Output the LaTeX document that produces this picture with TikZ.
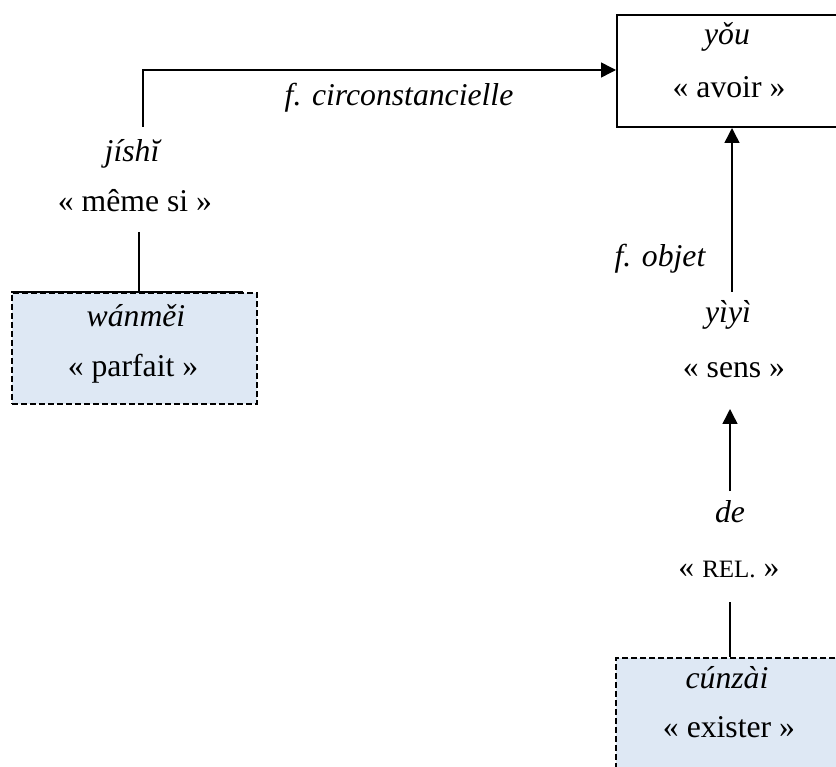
\documentclass[tikz,border=0pt]{standalone}
\usepackage{fontspec}
\setmainfont{Liberation Serif}
\usetikzlibrary{arrows.meta}
\definecolor{boxblue}{HTML}{DEE8F4}
\tikzset{
  txt/.style={anchor=base, inner sep=0pt, font=\fontsize{31.7}{38}\selectfont},
  itx/.style={txt, font=\fontsize{31.7}{38}\selectfont\itshape},
  conn/.style={line width=1.5pt, draw=black},
  arr/.style={conn, -{Triangle[length=15pt,width=15pt]}},
  solidbox/.style={draw=black, line width=2pt, inner sep=0pt},
  dashbox/.style={draw=black, fill=boxblue, line width=2pt, dash pattern=on 6pt off 3pt, inner sep=0pt}
}
\begin{document}
\begin{tikzpicture}[x=1pt, y=-1pt]
\useasboundingbox (0,0) rectangle (836,767);

% boxes
\node[solidbox, minimum width=221pt, minimum height=112pt] (youbox) at (727.5,71) {};
\node[dashbox, minimum width=245pt, minimum height=111pt] (wanbox) at (134.5,348.5) {};
\draw[line width=2.5pt] (wanbox.north west) -- ([xshift=-15pt]wanbox.north east);
\node[dashbox, minimum width=224pt, minimum height=122pt] (cunbox) at (728,719) {};

% texts
\node[itx] (you) at (727,45) {yǒu};
\node[txt] (avoir) at (729,98) {« avoir »};
\node[itx] (fcirc) at (399,106) {f. circonstancielle};
\node[itx] (jishi) at (132,162) {jíshĭ};
\node[txt] (meme) at (135,212) {« même si »};
\node[itx] (wanmei) at (136,327) {wánměi};
\node[txt] (parfait) at (133,377) {« parfait »};
\node[itx] (fobjet) at (660,267) {f. objet};
\node[itx] (yiyi) at (728,323) {yìyì};
\node[txt] (sens) at (734,378) {« sens »};
\node[itx] (de) at (730,522) {de};
\node[txt] (rel) at (729,577) {« {\fontsize{25}{30}\selectfont REL.} »};
\node[itx] (cunzai) at (727,688) {cúnzài};
\node[txt] (exister) at (729,737) {« exister »};

% connector anchor points
\coordinate (jtop) at (143,127);
\coordinate (jcorner) at (143,70);
\coordinate (mbot) at (139,232);
\coordinate (ytop) at (732,292);
\coordinate (dtop) at (730,491);
\coordinate (stip) at (730,409);
\coordinate (rbot) at (730,602);

\draw[arr] (jtop) -- (jcorner) -- (jcorner -| youbox.west);
\draw[conn] (mbot) -- (mbot |- wanbox.north);
\draw[arr] (ytop) -- (ytop |- youbox.south);
\draw[arr] (dtop) -- (stip);
\draw[conn] (rbot) -- (rbot |- cunbox.north);
\end{tikzpicture}
\end{document}
